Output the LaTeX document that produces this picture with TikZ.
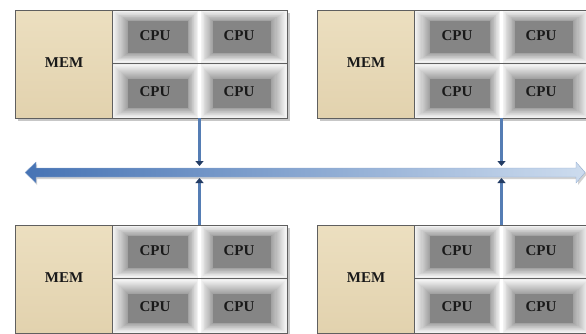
\documentclass[tikz,border=0pt]{standalone}
\usepackage{fontspec}
\setmainfont{Liberation Serif}
\usetikzlibrary{arrows.meta,calc}
\definecolor{membg}{RGB}{236,223,192}
\definecolor{membg2}{RGB}{226,210,174}
\definecolor{boxline}{RGB}{95,95,95}
\definecolor{areabg}{RGB}{238,238,238}
\definecolor{busdark}{RGB}{70,115,180}
\definecolor{buslight}{RGB}{205,220,238}
\definecolor{conn}{RGB}{85,125,180}
\definecolor{tipc}{RGB}{35,60,100}
\tikzset{
  lbl/.style={font=\bfseries\fontsize{15}{15}\selectfont, inner sep=0pt, text=black!90},
  membox/.style={draw=boxline, line width=0.8pt, inner sep=0pt, top color=membg, bottom color=membg2},
  cpuarea/.style={draw=boxline, line width=0.8pt, fill=areabg, inner sep=0pt},
  connector/.style={line width=3pt, conn, -{Triangle[length=5pt,width=8pt,color=tipc]}},
  shadowbox/.style={fill=black!22}
}
\newcommand{\cpucell}[9]{%
  \foreach \k in {0,...,13}{%
    \pgfmathsetmacro\tt{\k/14}%
    \pgfmathsetmacro\ax{#1+(#5-#1)*\tt}%
    \pgfmathsetmacro\ay{#2+(#6-#2)*\tt}%
    \pgfmathsetmacro\bx{#3+(#7-#3)*\tt}%
    \pgfmathsetmacro\by{#4+(#8-#4)*\tt}%
    \pgfmathsetmacro\cc{5+34*\tt}%
    \fill[black!\cc] (\ax,\ay) rectangle (\bx,\by);
  }%
  \fill[black!48] (#5,#6) rectangle (#7,#8);
  \pgfmathsetmacro\mx{(#5+#7)/2-3}%
  \pgfmathsetmacro\my{(#6+#8)/2-1.5}%
  \node[lbl] (#9) at (\mx,\my) {CPU};
}
\newcommand{\nodeunit}[3]{%
  \begin{scope}[shift={(#1,#2)}]
    \fill[shadowbox] (18,13) rectangle (290,121);
    \node[membox, minimum width=97pt, minimum height=108pt] (mem#3) at (63.5,64) {};
    \node[lbl] (memlabel#3) at (64,63) {MEM};
    \node[cpuarea, minimum width=175pt, minimum height=108pt] (area#3) at (199.5,64) {};
    \fill[white] (198,10.5) rectangle (201,117.5);
    \cpucell{113}{11}{198}{62}{128}{21}{188}{53}{cpu#3a}
    \cpucell{201}{11}{286.5}{62}{213}{21}{271}{53}{cpu#3b}
    \cpucell{113}{64.5}{198}{117.5}{128}{79}{188}{108}{cpu#3c}
    \cpucell{201}{64.5}{286.5}{117.5}{213}{79}{271}{108}{cpu#3d}
    \draw[boxline, line width=0.9pt] (112,63.3) -- (287,63.3);
    \draw[boxline, line width=0.8pt] (15,10) rectangle (287,118);
    \draw[boxline, line width=0.8pt] (112,10) -- (112,118);
  \end{scope}
}
\begin{document}
\begin{tikzpicture}[x=1pt,y=-1pt]
  \useasboundingbox (0,0) rectangle (586,333);
  \fill[white] (0,0) rectangle (586,333);
  \begin{scope}
    \clip (0,0) rectangle (586,333);
    \nodeunit{0}{0}{1}
    \nodeunit{302}{0}{2}
    \nodeunit{0}{215}{3}
    \nodeunit{302}{215}{4}
  \end{scope}
  % bus
  \coordinate (bustop) at (0,166);
  \coordinate (busbot) at (0,178);
  \fill[black!18] (27,174) -- (37,164) -- (37,170) -- (578,170) -- (578,164) -- (587,174) -- (578,185) -- (578,179) -- (37,179) -- (37,185) -- cycle;
  \shade[left color=busdark, right color=buslight, draw=busdark!60, line width=0.3pt]
    (25,172.5) -- (36,162) -- (36,168) -- (576,168) -- (576,162) -- (585,172.5) -- (576,183) -- (576,177) -- (36,177) -- (36,183) -- cycle;
  % connectors
  \draw[connector] (area1.south) -- (area1.south |- bustop);
  \draw[connector] (area2.south) -- (area2.south |- bustop);
  \draw[connector] (area3.north) -- (area3.north |- busbot);
  \draw[connector] (area4.north) -- (area4.north |- busbot);
\end{tikzpicture}
\end{document}
